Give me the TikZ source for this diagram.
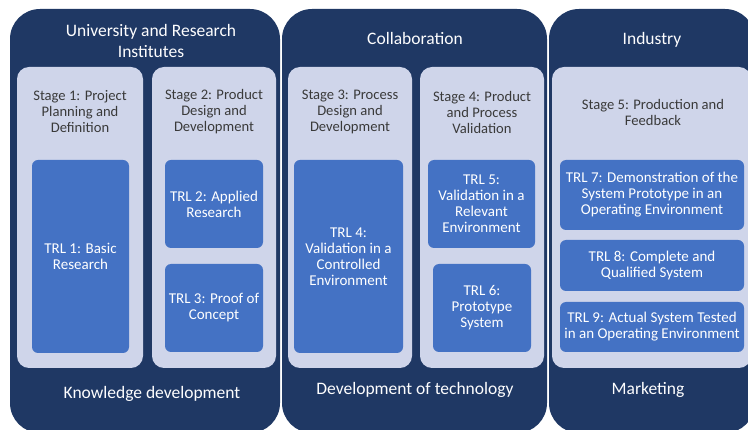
\documentclass[tikz,border=0pt]{standalone}
\usepackage{fontspec}
\setmainfont{Carlito}
\definecolor{navy}{RGB}{31,56,100}
\definecolor{lav}{RGB}{207,213,234}
\definecolor{trlblue}{RGB}{68,114,196}
\definecolor{stagetext}{RGB}{58,58,58}
\tikzset{
  box/.style={inner sep=0pt, outer sep=0pt, anchor=north west, draw=none},
  panel/.style={box, fill=navy, rounded corners=30pt},
  stagebox/.style={box, fill=lav, rounded corners=12pt},
  trl/.style={box, fill=trlblue, rounded corners=6pt, text=white, align=center,
    font=\fontsize{15}{16}\selectfont},
  ptitle/.style={text=white!96!lav, align=center, font=\fontsize{17.5}{21.5}\selectfont},
  stagelabel/.style={text=stagetext, align=center, font=\fontsize{14.6}{16}\selectfont},
}
\begin{document}
\begin{tikzpicture}[x=1pt,y=-1pt]
\useasboundingbox (0,0) rectangle (748,430);
\clip (0,0) rectangle (748,430);

% outer panels
\node[panel, minimum width=270pt, minimum height=424pt] (p1) at (10,9) {};
\node[panel, minimum width=265pt, minimum height=424pt] (p2) at (282,9) {};
\node[panel, minimum width=206pt, minimum height=424pt] (p3) at (549,9) {};

% panel titles
\node[ptitle] (t1) at (151,41) {University and Research\\Institutes};
\node[ptitle] (t2) at (415,38) {Collaboration};
\node[ptitle] (t3) at (652,40) {Industry};

% bottom labels
\node[ptitle] (b1) at (152,394) {Knowledge development};
\node[ptitle] (b2) at (415,390) {Development of technology};
\node[ptitle] (b3) at (648,390) {Marketing};

% stage boxes
\node[stagebox, minimum width=126pt, minimum height=301pt] (s1) at (17,67) {};
\node[stagebox, minimum width=124pt, minimum height=301pt] (s2) at (152,67) {};
\node[stagebox, minimum width=124pt, minimum height=301pt] (s3) at (288,67) {};
\node[stagebox, minimum width=124pt, minimum height=301pt] (s4) at (420,67) {};
\node[stagebox, minimum width=199pt, minimum height=301pt] (s5) at (552,67) {};

% stage labels
\node[stagelabel] (l1) at (80,112) {Stage 1: Project\\Planning and\\Definition};
\node[stagelabel] (l2) at (214,112) {Stage 2: Product\\Design and\\Development};
\node[stagelabel] (l3) at (350,112) {Stage 3: Process\\Design and\\Development};
\node[stagelabel] (l4) at (482,112) {Stage 4: Product\\and Process\\Validation};
\node[stagelabel] (l5) at (653,112) {Stage 5: Production and\\Feedback};

% TRL boxes
\node[trl, minimum width=97pt, minimum height=193pt] (trl1) at (32,160) {TRL 1: Basic\\Research};
\node[trl, minimum width=98pt, minimum height=88pt] (trl2) at (165,160) {TRL 2: Applied\\Research};
\node[trl, minimum width=98pt, minimum height=88pt] (trl3) at (165,264) {TRL 3: Proof of\\Concept};
\node[trl, minimum width=109pt, minimum height=193pt] (trl4) at (294,160) {TRL 4:\\Validation in a\\Controlled\\Environment};
\node[trl, minimum width=107pt, minimum height=88pt] (trl5) at (428,160) {TRL 5:\\Validation in a\\Relevant\\Environment};
\node[trl, minimum width=98pt, minimum height=88pt] (trl6) at (433,264) {TRL 6:\\Prototype\\System};
\node[trl, minimum width=184pt, minimum height=70pt] (trl7) at (560,160) {TRL 7: Demonstration of the\\System Prototype in an\\Operating Environment};
\node[trl, minimum width=184pt, minimum height=51pt] (trl8) at (560,240) {TRL 8: Complete and\\Qualified System};
\node[trl, minimum width=184pt, minimum height=50pt] (trl9) at (560,302) {TRL 9: Actual System Tested\\in an Operating Environment};
\end{tikzpicture}
\end{document}
